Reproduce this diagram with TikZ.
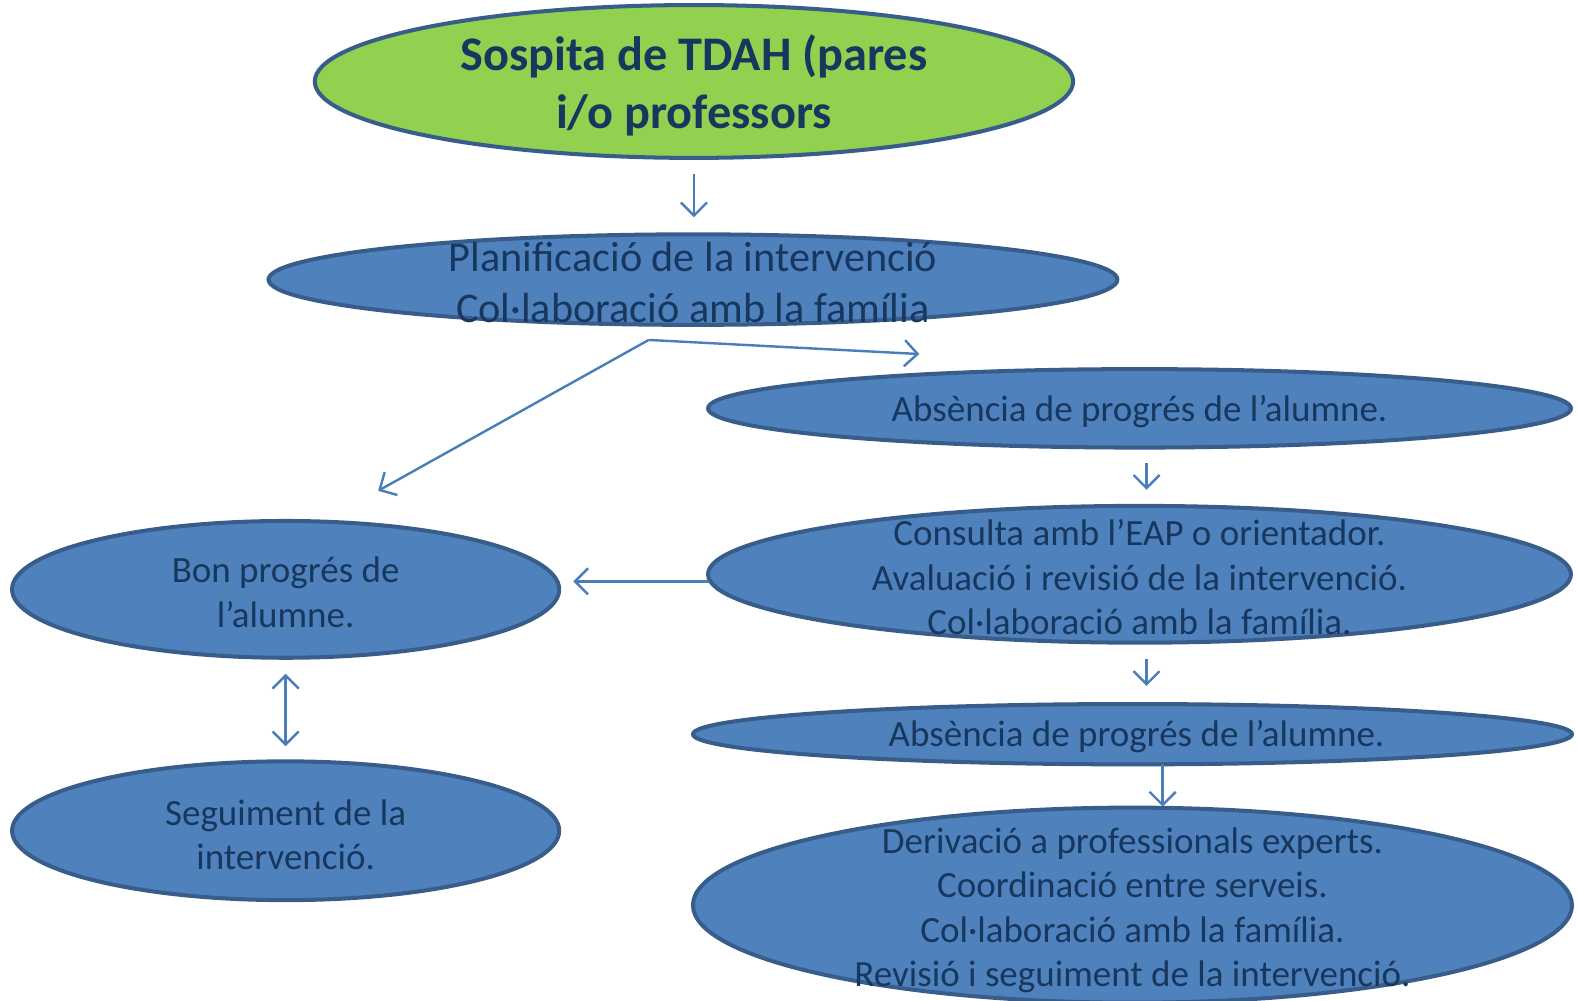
\documentclass[tikz,border=0pt]{standalone}
\usepackage{fontspec}
\setmainfont{Carlito}
\usetikzlibrary{shapes.geometric,arrows.meta}
\definecolor{fillblue}{HTML}{4F81BD}
\definecolor{edgeblue}{HTML}{385D8A}
\definecolor{txtnavy}{HTML}{17375E}
\definecolor{lightgreen}{HTML}{92D050}
\definecolor{arrowblue}{HTML}{4A7EBB}
\tikzset{
  oval/.style={ellipse, draw=edgeblue, line width=2pt, fill=fillblue, inner sep=0pt},
  greenoval/.style={oval, fill=lightgreen},
  lbl/.style={text=txtnavy, align=center, inner sep=0pt, font=\fontsize{18.4}{22}\selectfont},
  titlelbl/.style={text=txtnavy, align=center, inner sep=0pt, font=\fontsize{24}{28.5}\selectfont\bfseries},
  conn/.style={draw=arrowblue, line width=1.2pt, -{Straight Barb[length=6.5pt,width=13pt,line width=1.2pt]}},
  dconn/.style={draw=arrowblue, line width=1.2pt, {Straight Barb[length=6.5pt,width=13pt,line width=1.2pt]}-{Straight Barb[length=6.5pt,width=13pt,line width=1.2pt]}}
}
\begin{document}
\begin{tikzpicture}[x=0.5pt,y=-0.5pt]
\useasboundingbox (0,0) rectangle (1568,995);
% ellipses
\node[greenoval, minimum width=377pt, minimum height=76pt] (e1) at (690,81) {};
\node[oval, minimum width=422pt, minimum height=45pt] (e2) at (689,278) {};
\node[oval, minimum width=429pt, minimum height=39pt] (e3) at (1133,406) {};
\node[oval, minimum width=429pt, minimum height=68pt] (e4) at (1133,571) {};
\node[oval, minimum width=272pt, minimum height=68pt] (e5) at (284,586) {};
\node[oval, minimum width=272pt, minimum height=69pt] (e6) at (284,826) {};
\node[oval, minimum width=437pt, minimum height=30pt] (e7) at (1126,730) {};
\node[oval, minimum width=437pt, minimum height=97pt] (e8) at (1126,900) {};
% texts
\node[titlelbl] (t1) at (690,85) {Sospita de TDAH (pares\\i/o professors};
\node[lbl, font=\fontsize{21}{25}\selectfont] (t2) at (689,281) {Planificació de la intervenció\\Col·laboració amb la família};
\node[lbl] (t3) at (1133,409) {Absència de progrés de l’alumne.};
\node[lbl] (t4) at (1133,574) {Consulta amb l’EAP o orientador.\\Avaluació i revisió de la intervenció.\\Col·laboració amb la família.};
\node[lbl] (t5) at (284,589) {Bon progrés de\\l’alumne.};
\node[lbl] (t6) at (284,830) {Seguiment de la\\intervenció.};
\node[lbl] (t7) at (1130,732) {Absència de progrés de l’alumne.};
\node[lbl] (t8) at (1126,905) {Derivació a professionals experts.\\Coordinació entre serveis.\\Col·laboració amb la família.\\Revisió i seguiment de la intervenció.};
% connector end points
\coordinate (a1s) at (690,173);
\coordinate (a1e) at (690,216);
\coordinate (br) at (645,338);
\coordinate (brR) at (914,352);
\coordinate (brL) at (376,488);
\coordinate (a3s) at (1140,460);
\coordinate (a3e) at (1140,487);
\coordinate (a4s) at (705,578);
\coordinate (a4e) at (570,578);
\coordinate (a5s) at (1140,655);
\coordinate (a5e) at (1140,682);
\coordinate (a6s) at (1156,760);
\coordinate (a6e) at (1156,802);
\coordinate (a7s) at (284,670);
\coordinate (a7e) at (284,742);
% connectors
\draw[conn] (a1s) -- (a1e);
\draw[conn] (br) -- (brR);
\draw[conn] (br) -- (brL);
\draw[conn] (a3s) -- (a3e);
\draw[conn] (a4s) -- (a4e);
\draw[conn] (a5s) -- (a5e);
\draw[conn] (a6s) -- (a6e);
\draw[dconn] (a7s) -- (a7e);
\end{tikzpicture}
\end{document}
